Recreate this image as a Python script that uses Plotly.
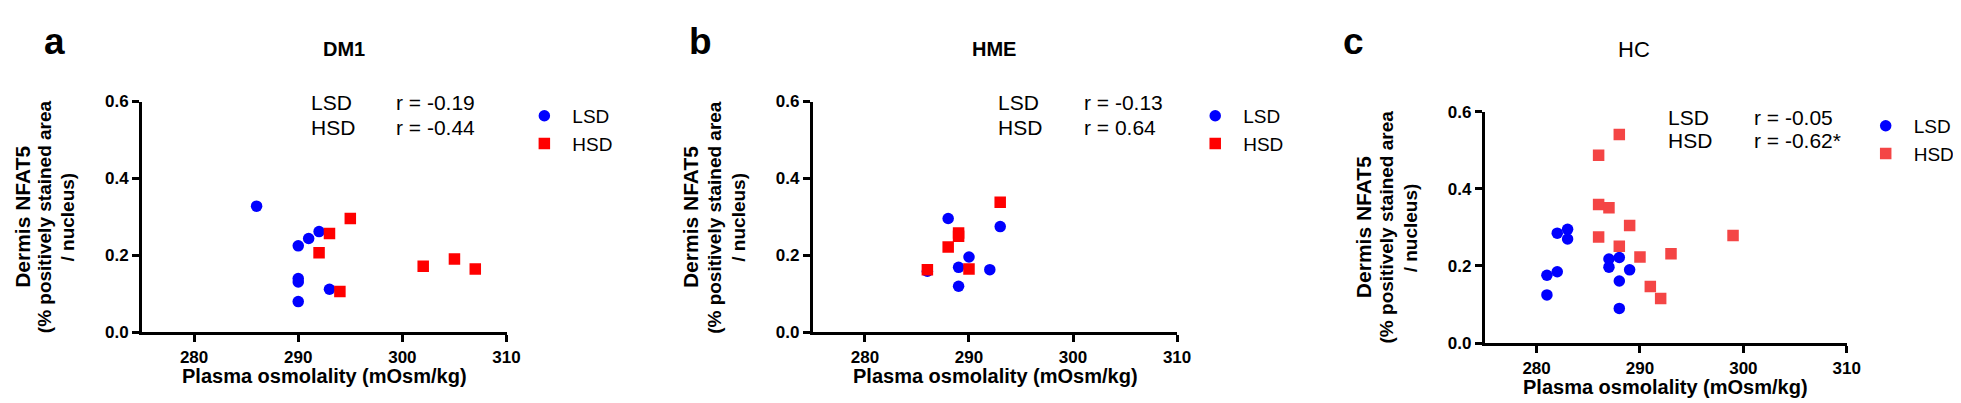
import plotly.graph_objects as go

W, H = 1961, 403

# ---------------- data ----------------
titles = ["DM1", "HME", "HC"]
letters = ["a", "b", "c"]
group_names = ["LSD", "HSD"]
r_lsd = ["r = -0.19", "r = -0.13", "r = -0.05"]
r_hsd = ["r = -0.44", "r = 0.64", "r = -0.62*"]

x_ticks = [280, 290, 300, 310]
y_ticks = [0.0, 0.2, 0.4, 0.6]
x_title = "Plasma osmolality (mOsm/kg)"
y_title_lines = ["Dermis NFAT5", "(% positively stained area", "/ nucleus)"]

dm1_lsd_x = [286, 291, 292, 290, 290, 290, 290, 293]
dm1_lsd_y = [0.328, 0.244, 0.262, 0.225, 0.140, 0.131, 0.080, 0.112]
dm1_hsd_x = [293, 295, 292, 294, 302, 305, 307]
dm1_hsd_y = [0.257, 0.296, 0.207, 0.106, 0.172, 0.191, 0.165]

hme_lsd_x = [288, 293, 290, 289, 292, 289, 286]
hme_lsd_y = [0.296, 0.275, 0.196, 0.169, 0.163, 0.120, 0.159]
hme_hsd_x = [293, 289, 289, 288, 290, 286]
hme_hsd_y = [0.338, 0.258, 0.250, 0.222, 0.165, 0.163]

hc_lsd_x = [281, 281, 282, 282, 283, 283, 287, 287, 288, 288, 288, 289]
hc_lsd_y = [0.176, 0.125, 0.285, 0.185, 0.295, 0.270, 0.218, 0.197, 0.222, 0.161, 0.090, 0.190]
hc_hsd_x = [288, 286, 286, 287, 289, 286, 288, 290, 293, 299, 291, 292]
hc_hsd_y = [0.541, 0.487, 0.359, 0.351, 0.305, 0.275, 0.251, 0.223, 0.232, 0.279, 0.147, 0.116]

lsd_x = [dm1_lsd_x, hme_lsd_x, hc_lsd_x]
lsd_y = [dm1_lsd_y, hme_lsd_y, hc_lsd_y]
hsd_x = [dm1_hsd_x, hme_hsd_x, hc_hsd_x]
hsd_y = [dm1_hsd_y, hme_hsd_y, hc_hsd_y]

# ---------------- styling / layout ----------------
BLUE = "#0000FF"
REDS = ["#FF0000", "#FF0000", "#F44545"]
ARIAL = "Liberation Sans, Arial, sans-serif"
NARROW = "Liberation Sans Narrow, Liberation Sans, Arial, sans-serif"

# pixel geometry of each panel: plot left/right, y of value 0 and 0.6
geo = [
    dict(x0=135.0, x1=502.1, yb=331.0, yt=88.7, letter_x=47, title_x=338.6,
         ann_x=303, r_x=389, ann_y=(89.5, 115.5), leg_x=540, leg_y=(105, 132),
         yt_x=(15, 37.5, 60)),
    dict(x0=810.7, x1=1177.5, yb=331.0, yt=88.7, letter_x=697, title_x=992.7,
         ann_x=995.5, r_x=1082, ann_y=(90, 116), leg_x=1215.7, leg_y=(105, 132),
         yt_x=(688, 712, 736)),
    dict(x0=1487.5, x1=1852.0, yb=342.3, yt=99.3, letter_x=1355, title_x=1638,
         ann_x=1670, r_x=1757, ann_y=(105, 130), leg_x=1891, leg_y=(115, 143),
         yt_x=(1365.5, 1388, 1412)),
]

def px_x(p):
    return p / W

def px_y(p):
    return 1 - p / H

fig = go.Figure()
annotations = []
legend_names = ["legend", "legend2", "legend3"]
layout_kw = {}

for i in range(3):
    g = geo[i]
    sfx = "" if i == 0 else str(i + 1)
    xa, ya = "x" + sfx, "y" + sfx
    fig.add_trace(go.Scatter(
        x=lsd_x[i], y=lsd_y[i], mode="markers", name=group_names[0],
        marker=dict(symbol="circle", size=11.5, color=BLUE, line=dict(width=0)),
        xaxis=xa, yaxis=ya, legend=legend_names[i], showlegend=True,
    ))
    fig.add_trace(go.Scatter(
        x=hsd_x[i], y=hsd_y[i], mode="markers", name=group_names[1],
        marker=dict(symbol="square", size=11.5, color=REDS[i], line=dict(width=0)),
        xaxis=xa, yaxis=ya, legend=legend_names[i], showlegend=True,
    ))

    layout_kw["xaxis" + sfx] = dict(
        domain=[px_x(g["x0"]), px_x(g["x1"])], range=[275, 310], anchor=ya,
        tickvals=x_ticks, ticktext=[str(v) for v in x_ticks],
        ticks="outside", ticklen=7, tickwidth=3, tickcolor="black",
        showline=True, linewidth=3, linecolor="black",
        showgrid=False, zeroline=False,
        tickfont=dict(family=ARIAL, size=17, color="black", weight="bold"),
    )
    layout_kw["yaxis" + sfx] = dict(
        domain=[px_y(g["yb"]), px_y(g["yt"])], range=[0, 0.6], anchor=xa,
        tickvals=y_ticks, tickformat=".1f",
        ticks="outside", ticklen=7, tickwidth=3, tickcolor="black",
        showline=True, linewidth=3, linecolor="black",
        showgrid=False, zeroline=False,
        tickfont=dict(family=ARIAL, size=17, color="black", weight="bold"),
    )

    # panel letter
    annotations.append(dict(
        text=letters[i], x=px_x(g["letter_x"]), y=px_y(25.5), xref="paper", yref="paper",
        xanchor="center", yanchor="middle", showarrow=False,
        font=dict(family=ARIAL, size=37, color="black", weight="bold")))
    # panel title
    annotations.append(dict(
        text=titles[i], x=px_x(g["title_x"]), y=px_y(34), xref="paper", yref="paper",
        xanchor="center", yanchor="middle", showarrow=False,
        font=dict(family=ARIAL if i < 2 else NARROW, size=20 if i < 2 else 22,
                  color="black", weight="bold" if i < 2 else "normal")))
    # x-axis title
    annotations.append(dict(
        text=x_title, x=px_x((g["x0"] + g["x1"]) / 2), y=px_y(g["yb"] + 46),
        xref="paper", yref="paper", xanchor="center", yanchor="middle", showarrow=False,
        font=dict(family=ARIAL, size=20, color="black", weight="bold")))
    # y-axis title (3 rotated lines, first one slightly larger)
    ymid = (g["yb"] + g["yt"]) / 2
    line_sizes = (21, 19, 19)
    for k in range(3):
        annotations.append(dict(
            text=y_title_lines[k], x=px_x(g["yt_x"][k]), y=px_y(ymid),
            xref="paper", yref="paper", xanchor="center", yanchor="middle",
            showarrow=False, textangle=-90,
            font=dict(family=ARIAL, size=line_sizes[k], color="black", weight="bold")))
    # correlation texts
    for k, (lab, rtxt) in enumerate(zip(group_names, [r_lsd[i], r_hsd[i]])):
        annotations.append(dict(
            text=lab, x=px_x(g["ann_x"]), y=px_y(g["ann_y"][k]), xref="paper", yref="paper",
            xanchor="left", yanchor="middle", showarrow=False,
            font=dict(family=NARROW, size=21, color="black")))
        annotations.append(dict(
            text=rtxt, x=px_x(g["r_x"]), y=px_y(g["ann_y"][k]), xref="paper", yref="paper",
            xanchor="left", yanchor="middle", showarrow=False,
            font=dict(family=NARROW, size=21, color="black")))

    layout_kw[legend_names[i]] = dict(
        x=px_x(g["leg_x"] - 28), y=px_y((g["leg_y"][0] + g["leg_y"][1]) / 2),
        xanchor="left", yanchor="middle", bgcolor="rgba(0,0,0,0)", borderwidth=0,
        font=dict(family=NARROW, size=19, color="black"), tracegroupgap=0,
        itemwidth=46,
    )

fig.update_layout(
    width=W, height=H, margin=dict(l=0, r=0, t=0, b=0),
    paper_bgcolor="white", plot_bgcolor="white",
    annotations=annotations, **layout_kw,
)

fig.write_html("out.html")
